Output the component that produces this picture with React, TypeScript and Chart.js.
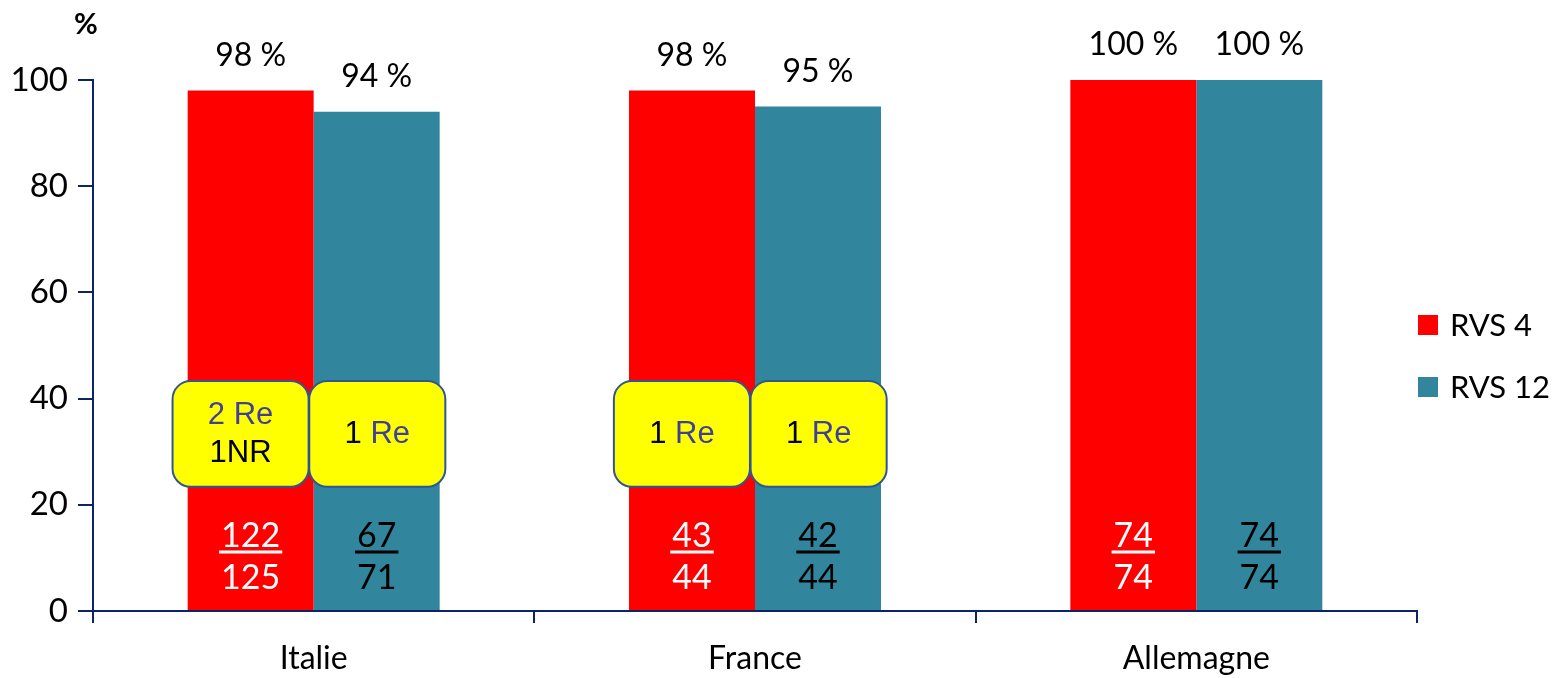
import { useEffect, useRef } from 'react';
import { Chart, registerables } from 'chart.js';

Chart.register(...registerables);

// ---- data ----
const categories = ['Italie', 'France', 'Allemagne'];
const seriesLabels = ['RVS 4', 'RVS 12'];
const rvs4 = [98, 98, 100];
const rvs12 = [94, 95, 100];
// responders / treated patients shown as a fraction inside each bar
const rvs4Responders = [122, 43, 74];
const rvs4Treated = [125, 44, 74];
const rvs12Responders = [67, 42, 74];
const rvs12Treated = [71, 44, 74];
// callouts: relapses (Re) and non-responders (NR); an empty list means no callout
type Segment = { text: string; relapse: boolean };
const rvs4Notes: Segment[][][] = [
  [[{ text: '2 Re', relapse: true }], [{ text: '1NR', relapse: false }]],
  [[{ text: '1 ', relapse: false }, { text: 'Re', relapse: true }]],
  [],
];
const rvs12Notes: Segment[][][] = [
  [[{ text: '1 ', relapse: false }, { text: 'Re', relapse: true }]],
  [[{ text: '1 ', relapse: false }, { text: 'Re', relapse: true }]],
  [],
];
const yTicks = [0, 20, 40, 60, 80, 100];

// ---- styles ----
const RED = '#FF0000';
const TEAL = '#31859C';
const NAVY = '#0B2466';
const RELAPSE_BLUE = '#403F9C';
const FONT = 'Lato';
const CALLOUT_FONT = '"Liberation Sans", Arial, sans-serif';
const CALLOUT_TOP = 43.3; // value units
const CALLOUT_BOTTOM = 23.4;

const labelsPlugin = {
  id: 'barAnnotations',
  afterDatasetsDraw(chart: any) {
    const ctx: CanvasRenderingContext2D = chart.ctx;
    const yScale = chart.scales.y;
    const base = yScale.getPixelForValue(0);
    const responders = [rvs4Responders, rvs12Responders];
    const treated = [rvs4Treated, rvs12Treated];
    const notes = [rvs4Notes, rvs12Notes];
    ctx.save();
    chart.data.datasets.forEach((ds: any, i: number) => {
      const meta = chart.getDatasetMeta(i);
      meta.data.forEach((bar: any, j: number) => {
        const { x, y, width } = bar.getProps(['x', 'y', 'width'], true);
        // value above bar
        ctx.fillStyle = '#000';
        ctx.font = `32px ${FONT}`;
        ctx.textAlign = 'center';
        ctx.textBaseline = 'middle';
        ctx.fillText(`${ds.data[j]} %`, x, y - 35);

        // fraction inside bar
        const txtColor = i === 0 ? '#FFFFFF' : '#000000';
        ctx.fillStyle = txtColor;
        ctx.font = `34px ${FONT}`;
        const num = String(responders[i][j]);
        const den = String(treated[i][j]);
        ctx.fillText(num, x, base - 75);
        ctx.fillText(den, x, base - 33);
        const w = ctx.measureText(num).width + 4;
        ctx.strokeStyle = txtColor;
        ctx.lineWidth = 3;
        ctx.beginPath();
        ctx.moveTo(x - w / 2, base - 59);
        ctx.lineTo(x + w / 2, base - 59);
        ctx.stroke();

        // yellow callout
        const lines = notes[i][j];
        if (lines && lines.length) {
          const bw = width * 1.08;
          const cx = i === 0 ? x - width * 0.08 : x + width * 0.005;
          const top = yScale.getPixelForValue(CALLOUT_TOP);
          const bottom = yScale.getPixelForValue(CALLOUT_BOTTOM);
          ctx.beginPath();
          (ctx as any).roundRect(cx - bw / 2, top, bw, bottom - top, 18);
          ctx.fillStyle = '#FFFF00';
          ctx.fill();
          ctx.strokeStyle = '#2F5597';
          ctx.lineWidth = 2;
          ctx.stroke();
          ctx.font = `31px ${CALLOUT_FONT}`;
          ctx.textAlign = 'left';
          const mid = (top + bottom) / 2 + 1;
          const lh = 38;
          lines.forEach((segs, k) => {
            const ly = mid + (k - (lines.length - 1) / 2) * lh;
            const total = segs.reduce((s, sg) => s + ctx.measureText(sg.text).width, 0);
            let sx = cx - total / 2;
            segs.forEach((sg) => {
              ctx.fillStyle = sg.relapse ? RELAPSE_BLUE : '#000';
              ctx.fillText(sg.text, sx, ly);
              sx += ctx.measureText(sg.text).width;
            });
          });
          ctx.textAlign = 'center';
        }
      });
    });
    ctx.restore();
  },
  afterDraw(chart: any) {
    const ctx: CanvasRenderingContext2D = chart.ctx;
    ctx.save();
    // unit label above the y axis
    ctx.fillStyle = '#000';
    ctx.font = `bold 29px ${FONT}`;
    ctx.textAlign = 'center';
    ctx.textBaseline = 'middle';
    ctx.fillText('%', 86, 25);
    // legend
    const area = chart.chartArea;
    ctx.font = `31px ${FONT}`;
    ctx.textAlign = 'left';
    chart.data.datasets.forEach((ds: any, i: number) => {
      const cy = 325 + i * 62;
      ctx.fillStyle = ds.backgroundColor;
      ctx.fillRect(area.right + 1, cy - 10, 20, 20);
      ctx.fillStyle = '#000';
      ctx.fillText(ds.label, area.right + 33, cy + 1);
    });
    ctx.restore();
  },
};

export default function App() {
  const ref = useRef<HTMLCanvasElement | null>(null);
  useEffect(() => {
    if (!ref.current) return;
    const chart = new Chart(ref.current, {
      type: 'bar',
      data: {
        labels: categories,
        datasets: [
          {
            label: seriesLabels[0],
            data: rvs4,
            backgroundColor: RED,
            categoryPercentage: 0.571,
            barPercentage: 1,
          },
          {
            label: seriesLabels[1],
            data: rvs12,
            backgroundColor: TEAL,
            categoryPercentage: 0.571,
            barPercentage: 1,
          },
        ],
      },
      options: {
        animation: false,
        responsive: true,
        maintainAspectRatio: false,
        layout: { padding: { top: 80, right: 145, left: 0, bottom: 0 } },
        plugins: { legend: { display: false }, tooltip: { enabled: false } },
        scales: {
          x: {
            ticks: { color: '#000', font: { family: FONT, size: 32 }, padding: 16 },
            grid: { offset: true, drawOnChartArea: false, tickLength: 12, color: NAVY, lineWidth: 2 },
            border: { color: NAVY, width: 2 },
            afterFit: (s: any) => {
              s.height = 67;
            },
          },
          y: {
            min: 0,
            max: 100,
            afterBuildTicks: (s: any) => {
              s.ticks = yTicks.map((v) => ({ value: v }));
            },
            ticks: { color: '#000', font: { family: FONT, size: 33 }, padding: 10 },
            grid: { drawOnChartArea: false, tickLength: 15, color: NAVY, lineWidth: 2 },
            border: { color: NAVY, width: 2 },
            afterFit: (s: any) => {
              s.width = 93;
            },
          },
        },
      },
      plugins: [labelsPlugin],
    });
    return () => chart.destroy();
  }, []);
  return (
    <div style={{ position: 'fixed', left: 0, top: 0, width: 1562, height: 678, background: '#fff' }}>
      <canvas ref={ref} />
    </div>
  );
}
